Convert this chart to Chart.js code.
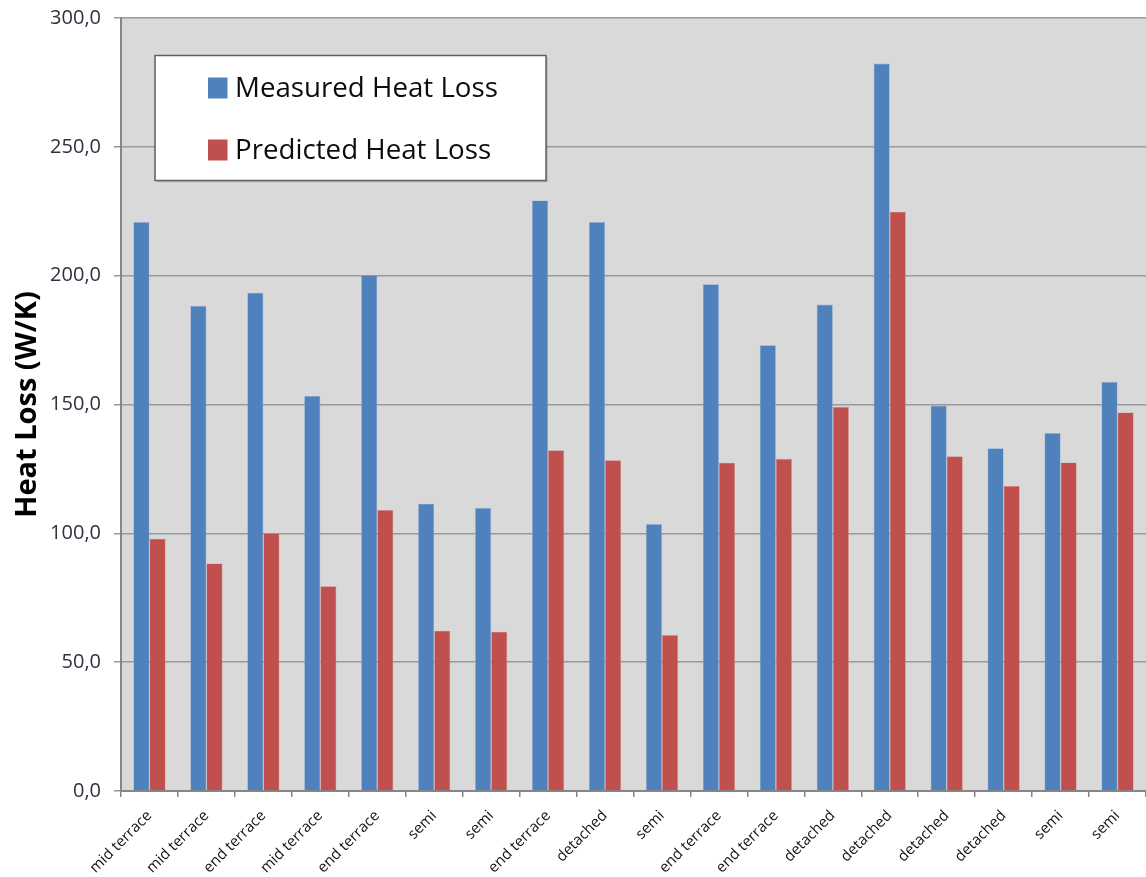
<!DOCTYPE html>
<html>
<head>
<meta charset="utf-8">
<title>Heat Loss</title>
<script src="https://cdn.jsdelivr.net/npm/chart.js@4.4.1/dist/chart.umd.min.js"></script>
<style>
  html, body { margin: 0; padding: 0; background: #ffffff; }
  #wrap { width: 1146px; height: 877px; position: relative; }
</style>
</head>
<body>
<div id="wrap"><canvas id="chart" width="1146" height="877"></canvas></div>
<script>
// Dwelling types, one per surveyed house
const categories = [
  'mid terrace', 'mid terrace', 'end terrace', 'mid terrace', 'end terrace',
  'semi', 'semi', 'end terrace', 'detached', 'semi', 'end terrace',
  'end terrace', 'detached', 'detached', 'detached', 'detached', 'semi', 'semi'
];

// Heat loss coefficients, W/K
const measuredHeatLoss = [
  220.8, 188.3, 193.4, 153.3, 200.2, 111.5, 109.9, 229.2, 220.8,
  103.6, 196.7, 173.0, 188.8, 282.3, 149.6, 133.0, 138.9, 158.8
];
const predictedHeatLoss = [
  97.9, 88.3, 100.1, 79.5, 109.1, 62.2, 61.8, 132.2, 128.4,
  60.5, 127.4, 128.9, 149.1, 224.8, 129.9, 118.4, 127.5, 146.9
];

const seriesNames = ['Measured Heat Loss', 'Predicted Heat Loss'];
const yTicks = [0, 50, 100, 150, 200, 250, 300];

const FONT = '"Open Sans", "Noto Sans", "DejaVu Sans", sans-serif';

// Grey plot background
const plotBackground = {
  id: 'plotBackground',
  beforeDraw(chart) {
    const { ctx, chartArea: a } = chart;
    ctx.save();
    ctx.fillStyle = '#D9D9D9';
    ctx.fillRect(a.left, a.top, a.right - a.left, a.bottom - a.top);
    ctx.restore();
  }
};

// Boxed legend drawn inside the plot area
const boxedLegend = {
  id: 'boxedLegend',
  afterDatasetsDraw(chart) {
    const { ctx } = chart;
    const box = { x: 155, y: 55.5, w: 391, h: 125 };
    ctx.save();
    ctx.shadowColor = 'rgba(0,0,0,0.25)';
    ctx.shadowOffsetX = 1.5;
    ctx.shadowOffsetY = 1.5;
    ctx.shadowBlur = 1.5;
    ctx.fillStyle = '#ffffff';
    ctx.fillRect(box.x, box.y, box.w, box.h);
    ctx.restore();
    ctx.save();
    ctx.strokeStyle = '#5f5f5f';
    ctx.lineWidth = 1.5;
    ctx.strokeRect(box.x, box.y, box.w, box.h);
    ctx.font = '27.7px ' + FONT;
    ctx.textBaseline = 'alphabetic';
    const rows = [97, 159];
    chart.data.datasets.forEach((ds, i) => {
      const base = rows[i];
      ctx.fillStyle = ds.backgroundColor;
      ctx.fillRect(208, base - 19.5, 19.5, 21);
      ctx.fillStyle = '#0c0c0c';
      ctx.fillText(ds.label, 235, base);
    });
    ctx.restore();
  }
};

new Chart(document.getElementById('chart'), {
  type: 'bar',
  data: {
    labels: categories,
    datasets: [
      { label: seriesNames[0], data: measuredHeatLoss, backgroundColor: '#4F81BD',
        borderColor: 'rgba(140,170,215,0.9)', borderWidth: 0.6 },
      { label: seriesNames[1], data: predictedHeatLoss, backgroundColor: '#C0504D',
        borderColor: 'rgba(215,140,140,0.9)', borderWidth: 0.6 }
    ]
  },
  options: {
    responsive: false,
    animation: false,
    devicePixelRatio: 1,
    layout: { padding: { top: 18, right: 0, left: 0, bottom: 0 } },
    datasets: { bar: { categoryPercentage: 0.565, barPercentage: 1.0 } },
    plugins: {
      legend: { display: false },
      tooltip: { enabled: false }
    },
    scales: {
      x: {
        offset: true,
        grid: { display: true, drawOnChartArea: false, drawTicks: true, tickLength: 6,
                color: '#868686', lineWidth: 1.5, offset: true },
        border: { display: true, color: '#868686', width: 2 },
        ticks: {
          minRotation: 45, maxRotation: 45, autoSkip: false, padding: 10,
          color: '#111111', font: { family: FONT, size: 15 }
        },
        afterFit(scale) { scale.height = 86; scale.paddingLeft = 0; scale.paddingRight = 0; }
      },
      y: {
        min: 0, max: 300,
        afterBuildTicks(scale) { scale.ticks = yTicks.map(v => ({ value: v })); },
        grid: { color: '#999999', lineWidth: 1.5, drawTicks: true, tickLength: 7 },
        border: { display: true, color: '#868686', width: 2 },
        ticks: {
          padding: 13,
          color: '#2f3140',
          font: { family: FONT, size: 20 },
          callback: v => v.toFixed(1).replace('.', ',')
        },
        title: {
          display: true, text: 'Heat Loss (W/K)', color: '#000000',
          font: { family: FONT, size: 29, weight: 'bold' },
          padding: { top: 10, bottom: 0 }
        },
        afterFit(scale) { scale.width = 121; scale.paddingTop = 0; scale.paddingBottom = 0; }
      }
    }
  },
  plugins: [plotBackground, boxedLegend]
});
</script>
</body>
</html>
